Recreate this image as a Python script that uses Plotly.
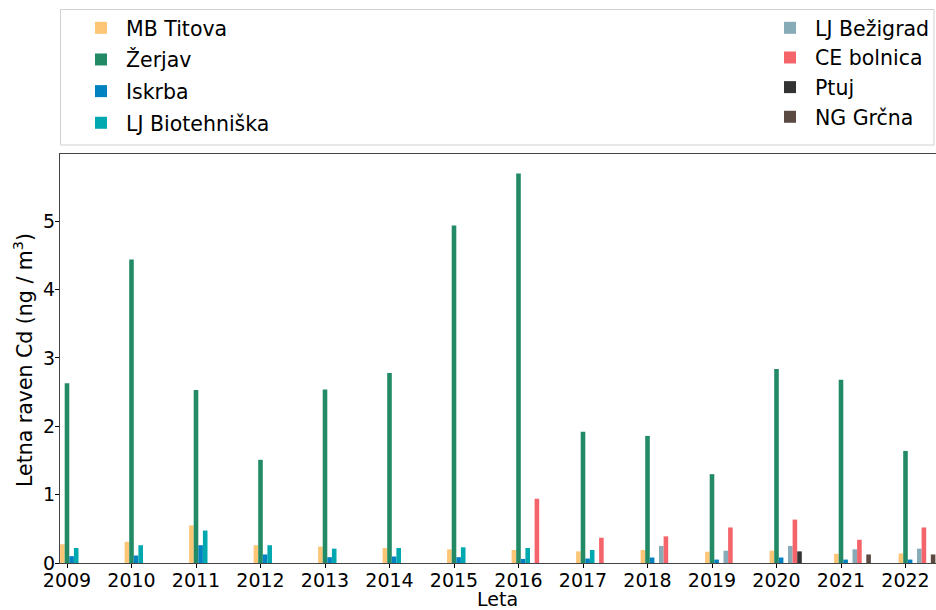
import plotly.graph_objects as go

years = list(range(2009, 2023))
series_names = ["MB Titova", "Žerjav", "Iskrba", "LJ Biotehniška",
                "LJ Bežigrad", "CE bolnica", "Ptuj", "NG Grčna"]

mb_titova = [0.275, 0.31, 0.55, 0.26, 0.24, 0.22, 0.20, 0.19, 0.17, 0.19, 0.165, 0.18, 0.135, 0.14]
zerjav = [2.63, 4.44, 2.53, 1.51, 2.54, 2.78, 4.94, 5.70, 1.92, 1.86, 1.30, 2.84, 2.68, 1.64]
iskrba = [0.10, 0.11, 0.26, 0.125, 0.085, 0.095, 0.085, 0.06, 0.065, 0.08, 0.05, 0.08, 0.05, 0.05]
lj_bio = [0.22, 0.26, 0.475, 0.26, 0.21, 0.22, 0.23, 0.22, 0.19, None, None, None, None, None]
lj_bez = [None, None, None, None, None, None, None, None, None, 0.25, 0.18, 0.25, 0.20, 0.21]
ce_bol = [None, None, None, None, None, None, None, 0.94, 0.37, 0.39, 0.52, 0.635, 0.34, 0.52]
ptuj = [None, None, None, None, None, None, None, None, None, None, None, 0.17, None, None]
ng_grcna = [None, None, None, None, None, None, None, None, None, None, None, None, 0.125, 0.125]

values = [mb_titova, zerjav, iskrba, lj_bio, lj_bez, ce_bol, ptuj, ng_grcna]
colors = ["#FDC576", "#228B66", "#0081C0", "#00A8AF",
          "#88ABB8", "#F4646A", "#333333", "#5B4A42"]

W, H = 936, 610
L, R, T, B = 60, 0, 154, 47
pw = W - L - R
ph = H - T - B
px_per_year = 64.5
xmin = 2009 - 7 / px_per_year
xmax = xmin + pw / px_per_year
bw = 4.6 / px_per_year

FONT = "DejaVu Sans"
FS = 19
FS_LEG = 20.5
FS_TITLE = 20.5

fig = go.Figure()
for k, (name, vals, col) in enumerate(zip(series_names, values, colors)):
    left = k < 4
    fig.add_trace(go.Bar(
        x=years, y=vals, name=name,
        width=bw, offset=(k - 1.5) * bw,
        marker=dict(color=col, line=dict(width=0)),
        legend="legend" if left else "legend2",
        legendgroup=name,
    ))

legend_common = dict(
    bgcolor="rgba(0,0,0,0)", borderwidth=0,
    font=dict(family=FONT, size=FS_LEG, color="#000000"),
    orientation="v", yanchor="top", xanchor="left",
    xref="container", yref="container",
    traceorder="grouped", itemwidth=40,
)

def px2x(p):
    return (p - L) / pw

def py2y(p):
    return (H - B - p) / ph

fig.update_layout(
    width=W, height=H,
    margin=dict(l=L, r=R, t=T, b=B, pad=0, autoexpand=False),
    paper_bgcolor="white", plot_bgcolor="white",
    barmode="overlay",
    font=dict(family=FONT, size=FS, color="#000000"),
    legend=dict(x=76 / W, y=1 - 8 / H, tracegroupgap=2, **legend_common),
    legend2=dict(x=765 / W, y=1 - 8 / H, tracegroupgap=0, **legend_common),
    xaxis=dict(
        range=[xmin, xmax], tickmode="array", tickvals=years,
        ticktext=[str(y) for y in years],
        ticks="outside", ticklen=0,
        minor=dict(tick0=2009, dtick=1, ticks="outside", ticklen=4,
                   tickcolor="#000000", showgrid=False),
        showline=True, linecolor="#444444", linewidth=1.2, mirror=True,
        showgrid=False, zeroline=False, automargin=False,
        tickfont=dict(family=FONT, size=FS),
    ),
    yaxis=dict(
        range=[0, 5.985], tickmode="array", tickvals=[0, 1, 2, 3, 4, 5],
        ticks="outside", ticklen=0,
        minor=dict(tick0=0, dtick=1, ticks="outside", ticklen=4,
                   tickcolor="#000000", showgrid=False),
        showline=True, linecolor="#444444", linewidth=1.2, mirror=False,
        showgrid=False, zeroline=False, automargin=False,
        tickfont=dict(family=FONT, size=FS),
    ),
    annotations=[
        dict(text="Leta", xref="paper", yref="paper",
             x=px2x(497), y=py2y(599), showarrow=False,
             xanchor="center", yanchor="middle",
             font=dict(family=FONT, size=FS)),
        dict(text="Letna raven Cd (ng / m<sup>3</sup>)", xref="paper", yref="paper",
             x=px2x(23), y=py2y(360), showarrow=False, textangle=-90,
             xanchor="center", yanchor="middle",
             font=dict(family=FONT, size=FS_TITLE)),
    ],
    shapes=[dict(
        type="rect", xref="paper", yref="paper",
        x0=px2x(60.5), x1=px2x(934), y0=py2y(145), y1=py2y(9.5),
        line=dict(color="#D0D0D0", width=1), fillcolor="rgba(0,0,0,0)",
    )],
)

fig.write_html("out.html", config={"displayModeBar": False},
               post_script="document.body.style.margin='0';")
